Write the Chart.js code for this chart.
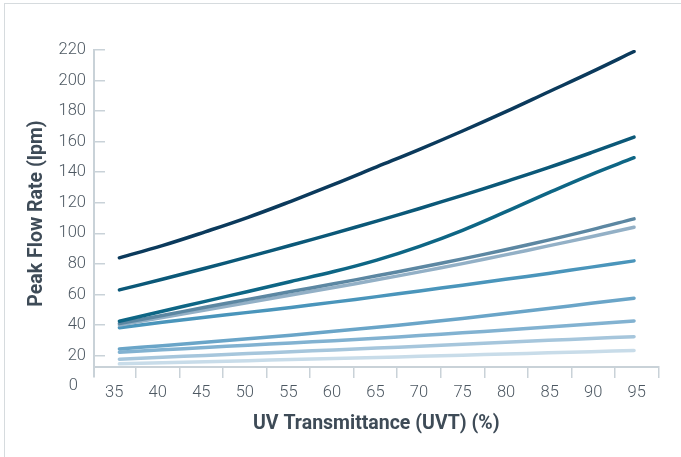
<!DOCTYPE html>
<html>
<head>
<meta charset="utf-8">
<script src="https://cdn.jsdelivr.net/npm/chart.js@4.4.1/dist/chart.umd.min.js"></script>
<style>
  html, body { margin: 0; padding: 0; background: #fff; }
  #wrap { position: relative; width: 681px; height: 457px; }
  #frame {
    position: absolute; left: 4px; top: 3px; right: 0; bottom: 0;
    border-top: 1px solid #d6dbde; border-left: 1px solid #d6dbde;
    pointer-events: none;
  }
</style>
</head>
<body>
<div id="wrap">
  <canvas id="flowChart" width="681" height="457"></canvas>
  <div id="frame"></div>
</div>
<script>
// x categories (UVT %) and y tick labels
const uvtValues = [35, 40, 45, 50, 55, 60, 65, 70, 75, 80, 85, 90, 95];
const flowTicks = [0, 20, 40, 60, 80, 100, 120, 140, 160, 180, 200, 220];

// peak flow rate (lpm) per curve, top to bottom
const curve1 = [84, 92, 101, 110.5, 121, 132, 143.5, 155, 167, 179.5, 192.5, 205.5, 219];
const curve2 = [63, 70, 77.2, 84.6, 92.2, 100, 108, 116.3, 124.9, 133.8, 143, 152.8, 163];
const curve3 = [42.5, 49, 55.5, 62, 68.5, 75, 82.5, 91.5, 102, 114, 126.5, 138.5, 149.5];
const curve4 = [41, 46.3, 51.6, 56.8, 61.9, 67, 72.2, 77.6, 83.3, 89.3, 95.6, 102.3, 109.5];
const curve5 = [40, 45, 49.9, 54.8, 59.7, 64.6, 69.6, 74.8, 80.2, 85.9, 91.8, 97.8, 104];
const curve6 = [38.3, 41.8, 45.1, 48.3, 51.5, 55, 58.6, 62.3, 66.1, 69.9, 73.8, 77.9, 82];
const curve7 = [24.4, 26.5, 28.7, 31, 33.4, 35.9, 38.5, 41.3, 44.3, 47.5, 50.8, 54.2, 57.5];
const curve8 = [22.2, 23.8, 25.3, 26.8, 28.3, 29.8, 31.4, 33.1, 34.9, 36.8, 38.7, 40.7, 42.7];
const curve9 = [17.6, 18.9, 20.1, 21.3, 22.5, 23.7, 24.9, 26.2, 27.5, 28.8, 30, 31.2, 32.4];
const curve10 = [14.6, 15.3, 16, 16.7, 17.4, 18.1, 18.8, 19.5, 20.3, 21.1, 21.8, 22.6, 23.3];

const curves = [curve1, curve2, curve3, curve4, curve5, curve6, curve7, curve8, curve9, curve10];
const curveColors = [
    '#0b3a5c', '#0b5878', '#0e6685', '#5c87a2', '#93b0c6',
    '#4a95bb', '#6aa5c8', '#82b2d1', '#a6c6dc', '#c8dce9'
];

const axisColor = '#c9d2d8';
const labelColor = '#4d5862';
const titleColor = '#3e4b57';
const tickFont = { family: 'Roboto', size: 16.5, weight: '300' };
const titleFont = { family: 'Roboto, sans-serif', size: 19.5, weight: 'bold' };

/**
 * Build one line dataset per curve
 */
function buildDatasets() {
    return curves.map((curve, i) => ({
        label: 'Curve ' + (i + 1),
        data: curve.map((v, j) => ({ x: uvtValues[j], y: v })),
        borderColor: curveColors[i],
        backgroundColor: curveColors[i],
        borderWidth: 3.5,
        pointRadius: 0,
        fill: false
    }));
}

const ctx = document.getElementById('flowChart').getContext('2d');

new Chart(ctx, {
    type: 'line',
    data: { datasets: buildDatasets() },
    options: {
        responsive: false,
        animation: false,
        layout: { padding: { left: 14, top: 50, right: 22.5, bottom: 80 } },
        plugins: {
            legend: { display: false },
            tooltip: { enabled: false }
        },
        elements: {
            line: {
                tension: 0.4,
                borderCapStyle: 'round',
                borderJoinStyle: 'round'
            }
        },
        scales: {
            // data axis, hidden
            x: { type: 'linear', display: false, min: 32.04, max: 97.85 },
            // visible UVT axis
            uvt: {
                type: 'linear',
                axis: 'x',
                position: { y: 12.8 },
                min: 32.68,
                max: 97.5,
                afterBuildTicks: (scale) => {
                    scale.ticks = uvtValues.map(v => ({ value: v }));
                },
                grid: {
                    offset: true,
                    drawOnChartArea: false,
                    drawTicks: true,
                    tickLength: 10,
                    color: axisColor,
                    lineWidth: 1.5
                },
                border: { color: axisColor, width: 2 },
                ticks: {
                    font: tickFont,
                    color: labelColor,
                    padding: 6,
                    maxRotation: 0,
                    autoSkip: false
                },
                title: {
                    display: true,
                    text: 'UV Transmittance (UVT) (%)',
                    font: titleFont,
                    color: titleColor,
                    padding: { top: 4, bottom: 0 }
                }
            },
            y: {
                type: 'linear',
                position: 'left',
                min: 6,
                max: 220,
                afterBuildTicks: (scale) => {
                    scale.ticks = flowTicks.map(v => ({ value: v }));
                },
                afterFit: (scale) => {
                    scale.width = 80;
                },
                grid: {
                    drawOnChartArea: false,
                    drawTicks: true,
                    tickLength: -11,
                    lineWidth: 1.5,
                    color: (c) => (c.tick && c.tick.value === 0) ? 'rgba(0,0,0,0)' : axisColor
                },
                border: { color: axisColor, width: 2 },
                ticks: {
                    font: tickFont,
                    color: labelColor,
                    padding: 19,
                    autoSkip: false,
                    callback: (v) => v === 0 ? '0  ' : String(v)
                },
                title: {
                    display: true,
                    text: 'Peak Flow Rate (lpm)',
                    font: titleFont,
                    color: titleColor,
                    padding: { top: 11, bottom: 0 }
                }
            }
        }
    }
});
</script>
</body>
</html>
